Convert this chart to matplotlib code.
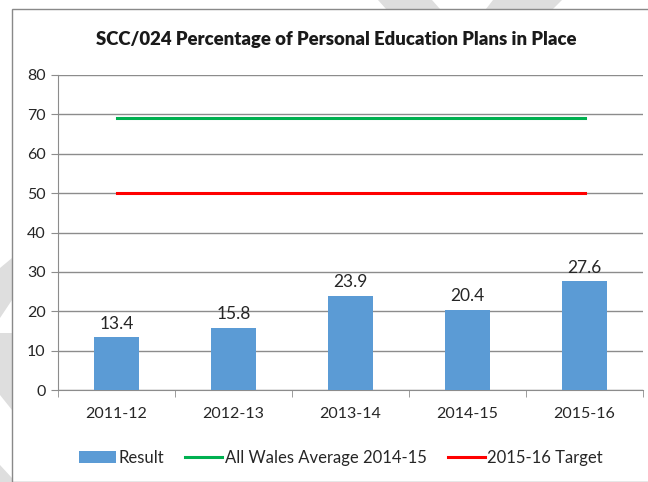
import matplotlib
matplotlib.use('Agg')
import matplotlib.pyplot as plt
from matplotlib.patches import Polygon, Rectangle
import numpy as np

plt.rcParams['font.family'] = ['Lato', 'DejaVu Sans']

years = ['2011-12', '2012-13', '2013-14', '2014-15', '2015-16']
result = [13.4, 15.8, 23.9, 20.4, 27.6]
wales_avg = [69, 69, 69, 69, 69]
target = [50, 50, 50, 50, 50]

W, H = 648, 482
fig = plt.figure(figsize=(W / 100, H / 100), dpi=100)

def px(x, y):
    # pixel coords (top-left origin) -> figure fraction
    return (x / W, 1 - y / H)

# faint watermark shapes behind the chart
wm = '#dedede'
shapes = [
    [(378, 0), (432, 0), (440, 9), (386, 9)],
    [(493, 0), (562, 0), (553, 9), (486, 9)],
    [(0, 268), (12, 258), (12, 300), (0, 318)],
    [(0, 333), (12, 333), (12, 410), (0, 395)],
    [(0, 465), (12, 478), (12, 482), (0, 482)],
]
for s in shapes:
    fig.add_artist(Polygon([px(*p) for p in s], closed=True, transform=fig.transFigure,
                           facecolor=wm, edgecolor='none', zorder=0))

# chart area with border
fig.add_artist(Rectangle(px(12, 482), (W - 12) / W + 0.01, (482 - 9) / H, transform=fig.transFigure,
                         facecolor='white', edgecolor='#898989', linewidth=1.0, zorder=1))

ax = fig.add_axes([58 / W, 1 - 390 / H, 585 / W, 315 / H], zorder=2)
ax.patch.set_alpha(0)

x = np.arange(len(years))
bars = ax.bar(x, result, width=0.39, color='#5B9BD5', zorder=3, label='Result')
l1, = ax.plot(x, wales_avg, color='#00B050', linewidth=2.2, zorder=4, label='All Wales Average 2014-15')
l2, = ax.plot(x, target, color='#FF0000', linewidth=2.2, zorder=4, label='2015-16 Target')

for xi, v in zip(x, result):
    ax.text(xi, v + 1.4, f'{v:.1f}', ha='center', va='bottom', fontsize=12.5, color='#262626')

ax.set_xlim(-0.5, len(years) - 0.5)
ax.set_ylim(0, 80)
ax.set_yticks(np.arange(0, 81, 10))
ax.yaxis.grid(True, color='#8c8c8c', linewidth=1.0)
ax.set_axisbelow(True)

ax.set_xticks(x)
ax.set_xticklabels(years)
ax.set_xticks(np.arange(-0.5, len(years)), minor=True)
ax.tick_params(axis='x', which='major', length=0, pad=12, labelsize=11.5, labelcolor='#262626')
ax.tick_params(axis='x', which='minor', length=5, color='#8c8c8c')
ax.tick_params(axis='y', length=5, color='#8c8c8c', labelsize=11.5, labelcolor='#262626', pad=4)

for side in ['top', 'right']:
    ax.spines[side].set_visible(False)
for side in ['left', 'bottom']:
    ax.spines[side].set_color('#8c8c8c')

fig.text(*px(336, 40), 'SCC/024 Percentage of Personal Education Plans in Place',
         ha='center', va='center', fontsize=13.3, fontweight='heavy', color='#1a1a1a', zorder=5)

fig.legend([bars, l1, l2], ['Result', 'All Wales Average 2014-15', '2015-16 Target'],
           loc='center', bbox_to_anchor=px(341, 458), ncol=3, frameon=False,
           fontsize=12, handlelength=2.2, handletextpad=0.15, columnspacing=1.3, labelcolor='#262626')

fig.savefig('out.png', dpi=100)
